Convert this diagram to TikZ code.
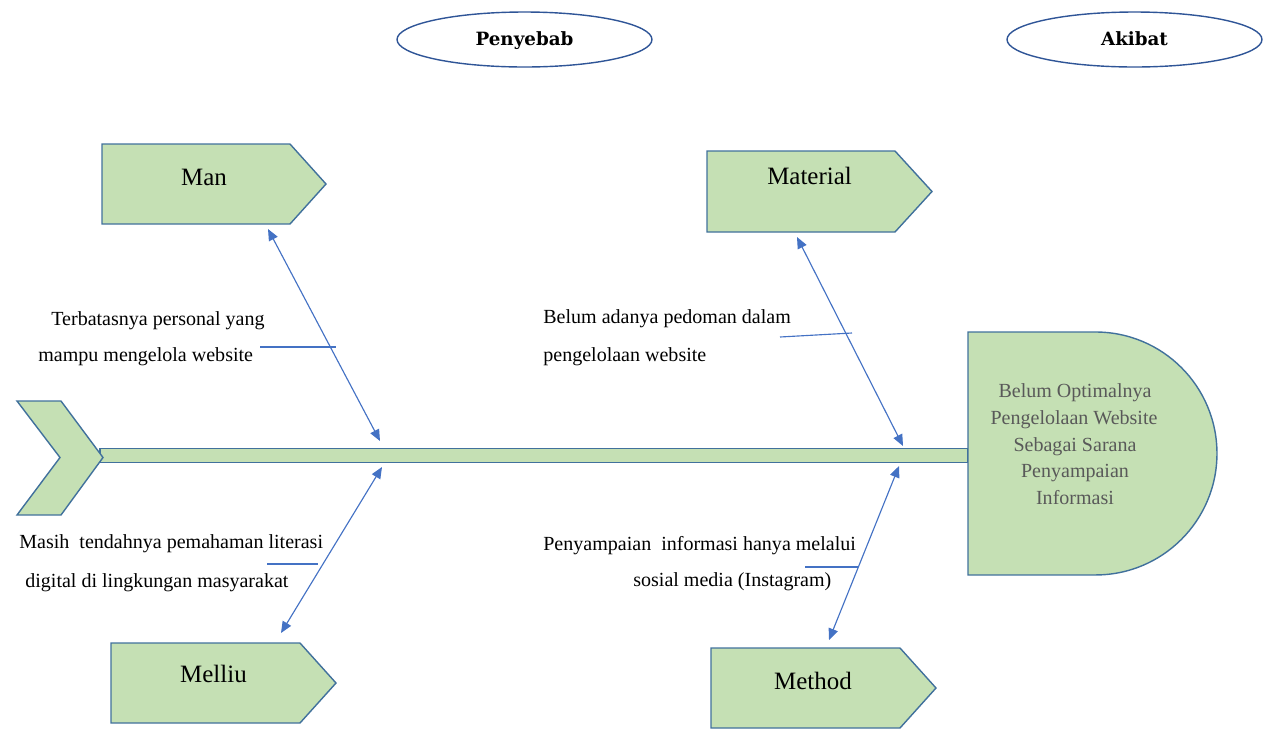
\documentclass[tikz,border=0pt]{standalone}
\usepackage{fontspec}
\setmainfont{Liberation Serif}
\newfontfamily\slabfont{DejaVu Serif}
\usetikzlibrary{arrows.meta,shapes.geometric}
\definecolor{boxfill}{HTML}{C5E0B4}
\definecolor{boxline}{HTML}{41719C}
\definecolor{arrowblue}{HTML}{4472C4}
\definecolor{headtext}{HTML}{595959}
\definecolor{ellline}{HTML}{2F5597}
\begin{document}
\begin{tikzpicture}[x=0.02cm,y=-0.02cm,
  shapebox/.style={fill=boxfill,draw=boxline,line width=0.8pt,line join=miter},
  titleell/.style={ellipse,draw=ellline,line width=0.8pt,inner sep=0pt,
    minimum width=5.1cm,minimum height=1.1cm,
    font=\slabfont\bfseries\fontsize{10.4}{12}\selectfont,
    text height=0.26cm,text depth=0.04cm},
  cause/.style={anchor=base west,inner sep=0pt,font=\fontsize{11.4}{13}\selectfont},
  boxlabel/.style={anchor=base,inner sep=0pt,font=\fontsize{14.2}{17}\selectfont},
  headline/.style={anchor=base,inner sep=0pt,text=headtext,font=\fontsize{11.4}{13}\selectfont},
  bone/.style={draw=arrowblue,line width=0.65pt,
    {Triangle[length=6.5pt,width=5.5pt]}-{Triangle[length=6.5pt,width=5.5pt]}},
  stub/.style={draw=arrowblue,line width=0.65pt}]
\useasboundingbox (0,0) rectangle (1272,735);

% title ellipses
\node[titleell] (penyebab) at (524.5,39.5) {Penyebab};
\node[titleell] (akibat) at (1134.5,39.5) {Akibat};

% spine
\path[shapebox] (100,448.5) rectangle (968,462.5);
% tail chevron
\path[shapebox] (17,401) -- (61,401) -- (103,457.5) -- (61,515) -- (17,515) -- (60,457.5) -- cycle;
% head
\path[shapebox] (968,332) -- (1095.5,332) arc[start angle=90,end angle=-90,radius=2.43cm] -- (968,575) -- cycle;
\node[headline] (h1) at (1075,397) {Belum Optimalnya};
\node[headline] (h2) at (1074,424) {Pengelolaan Website};
\node[headline] (h3) at (1075,451) {Sebagai Sarana};
\node[headline] (h4) at (1075,477) {Penyampaian};
\node[headline] (h5) at (1075,504) {Informasi};

% category boxes
\path[shapebox] (102,144) -- (290,144) -- (326,184) -- (290,224) -- (102,224) -- cycle;
\node[boxlabel] (man) at (204,185) {Man};
\path[shapebox] (707,151) -- (895,151) -- (932,191.5) -- (895,232) -- (707,232) -- cycle;
\node[boxlabel] (material) at (809.5,184) {Material};
\path[shapebox] (111,643) -- (300,643) -- (336,683) -- (300,723) -- (111,723) -- cycle;
\node[boxlabel] (melliu) at (213.5,682) {Melliu};
\path[shapebox] (711,648) -- (900,648) -- (936,688) -- (900,728) -- (711,728) -- cycle;
\node[boxlabel] (method) at (813,689) {Method};

% cause texts
\node[cause] (c1a) at (51,325) {Terbatasnya personal yang};
\node[cause] (c1b) at (38,361) {mampu mengelola website};
\node[cause] (c2a) at (543,323) {Belum adanya pedoman dalam};
\node[cause] (c2b) at (543,361) {pengelolaan website};
\node[cause] (c3a) at (19,548) {Masih\ \ tendahnya pemahaman literasi};
\node[cause] (c3b) at (25,587) {digital di lingkungan masyarakat};
\node[cause] (c4a) at (543,550) {Penyampaian\ \ informasi hanya melalui};
\node[cause] (c4b) at (633,586) {sosial media (Instagram)};

% bone coordinates
\coordinate (manTop) at (268,229);
\coordinate (manBot) at (380,441);
\coordinate (matTop) at (797,237);
\coordinate (matBot) at (903,446);
\coordinate (melTop) at (382,467);
\coordinate (melBot) at (281,633);
\coordinate (metTop) at (899,466);
\coordinate (metBot) at (829,640);
\draw[bone] (manTop) -- (manBot);
\draw[bone] (matTop) -- (matBot);
\draw[bone] (melTop) -- (melBot);
\draw[bone] (metTop) -- (metBot);

% stubs
\coordinate (s1a) at (260,347); \coordinate (s1b) at (336,347);
\coordinate (s2a) at (780,337); \coordinate (s2b) at (852,333);
\coordinate (s3a) at (267,564); \coordinate (s3b) at (318,564);
\coordinate (s4a) at (805,567); \coordinate (s4b) at (858,567);
\draw[stub] (s1a) -- (s1b);
\draw[stub] (s2a) -- (s2b);
\draw[stub] (s3a) -- (s3b);
\draw[stub] (s4a) -- (s4b);
\end{tikzpicture}
\end{document}
